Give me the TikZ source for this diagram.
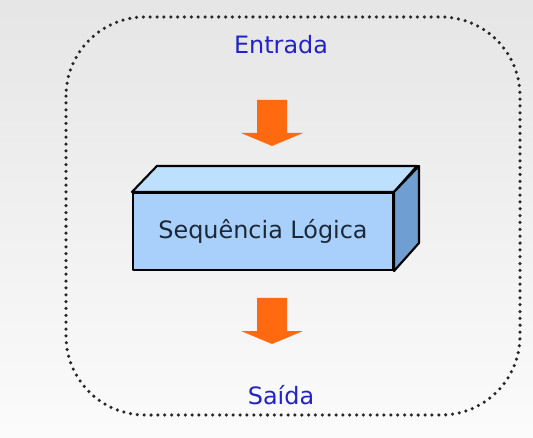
\documentclass[tikz,border=0pt]{standalone}
\usepackage{fontspec}
\setmainfont{DejaVu Sans}
\usetikzlibrary{positioning}

\definecolor{entblue}{RGB}{34,34,204}
\definecolor{boxfront}{RGB}{168,208,250}
\definecolor{boxtop}{RGB}{190,224,255}
\definecolor{boxside}{RGB}{110,158,210}
\definecolor{boxtext}{RGB}{28,40,56}
\definecolor{arrorange}{RGB}{255,106,16}

\begin{document}
\begin{tikzpicture}[x=0.02cm, y=-0.02cm, line join=round,
    label text/.style={font=\fontsize{13.6}{16}\selectfont, text=entblue, inner sep=0pt},
    face/.style={draw=black, line width=1.2pt},
    blockarrow/.pic={
      \fill[arrorange] (-15,0) -- (15,0) -- (15,33) -- (31,33) -- (0,46)
        -- (-31,33) -- (-15,33) -- cycle;}]
	\useasboundingbox (0,0) rectangle (533,438);
	\shade[top color=gray!20, bottom color=gray!3] (0,0) rectangle (533,438);
	% dotted frame
	\draw[line width=2pt, line cap=round, dash pattern=on 0pt off 3.9pt, black!85,
	      rounded corners=45] (66,17) rectangle (520,415);
	\node[label text] (entrada) at (281,45) {Entrada};
	\node[label text] (saida) at (281,395) {Saída};
	% box
	\node[face, fill=boxfront, minimum width=5.2cm, minimum height=1.54cm, inner sep=0pt,
	      font=\fontsize{13.6}{16}\selectfont, text=boxtext] (seq) at (263,231.5) {Sequência Lógica};
	\draw[face, fill=boxtop] (seq.north west) -- ++(25,-26) -- ++(260,0) -- (seq.north east) -- cycle;
	\draw[face, fill=boxside] (seq.north east) -- ++(25,-26) -- ++(0,77) -- (seq.south east) -- cycle;
	% arrows
	\pic at (272,100) {blockarrow};
	\pic at (272,298) {blockarrow};
\end{tikzpicture}
\end{document}
